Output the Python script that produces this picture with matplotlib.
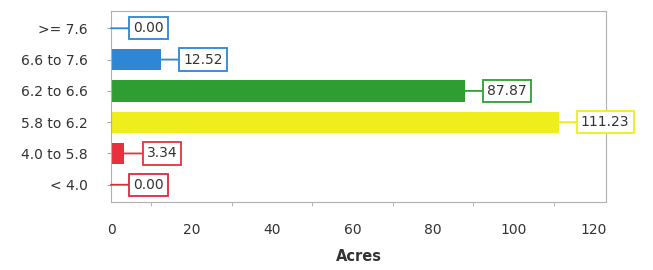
import matplotlib.pyplot as plt
from matplotlib.ticker import MultipleLocator

categories = ['< 4.0', '4.0 to 5.8', '5.8 to 6.2', '6.2 to 6.6', '6.6 to 7.6', '>= 7.6']
acres = [0.00, 3.34, 111.23, 87.87, 12.52, 0.00]
colors = ['#e0283c', '#e8303f', '#eeee1c', '#2e9e32', '#2e86d4', '#2e86d4']
x_ticks = [0, 20, 40, 60, 80, 100, 120]

fig = plt.figure(figsize=(6.53, 2.70), dpi=100)
ax = fig.add_axes([0.170, 0.252, 0.758, 0.707])

ypos = list(range(len(categories)))
ax.barh(ypos, acres, height=0.68, color=colors)

# value labels in boxes, linked to the bar end
for y, v, c in zip(ypos, acres, colors):
    ax.annotate('%.2f' % v, xy=(v, y), xytext=(16, 0), textcoords='offset points',
                ha='left', va='center', fontsize=10, color='#333333',
                bbox=dict(boxstyle='square,pad=0.3', fc='white', ec=c, lw=1.3),
                arrowprops=dict(arrowstyle='-', color=c, lw=1.3, shrinkA=0, shrinkB=0),
                annotation_clip=False, clip_on=False)

ax.set_yticks(ypos)
ax.set_yticklabels(categories, fontsize=10, color='#333333')
ax.set_ylim(-0.55, 5.55)
ax.set_xlim(0, 123)
ax.set_xticks(x_ticks)
ax.xaxis.set_minor_locator(MultipleLocator(10))
ax.tick_params(axis='x', which='major', length=0, pad=15, labelsize=10, labelcolor='#333333')
ax.tick_params(axis='x', which='minor', length=3, color='#aaaaaa')
ax.tick_params(axis='y', length=3, pad=14, color='#aaaaaa')
ax.set_xlabel('Acres', fontsize=10.5, fontweight='bold', color='#333333', labelpad=9)

for s in ax.spines.values():
    s.set_color('#b0b0b0')
    s.set_linewidth(0.8)

fig.savefig('out.png', dpi=100)
